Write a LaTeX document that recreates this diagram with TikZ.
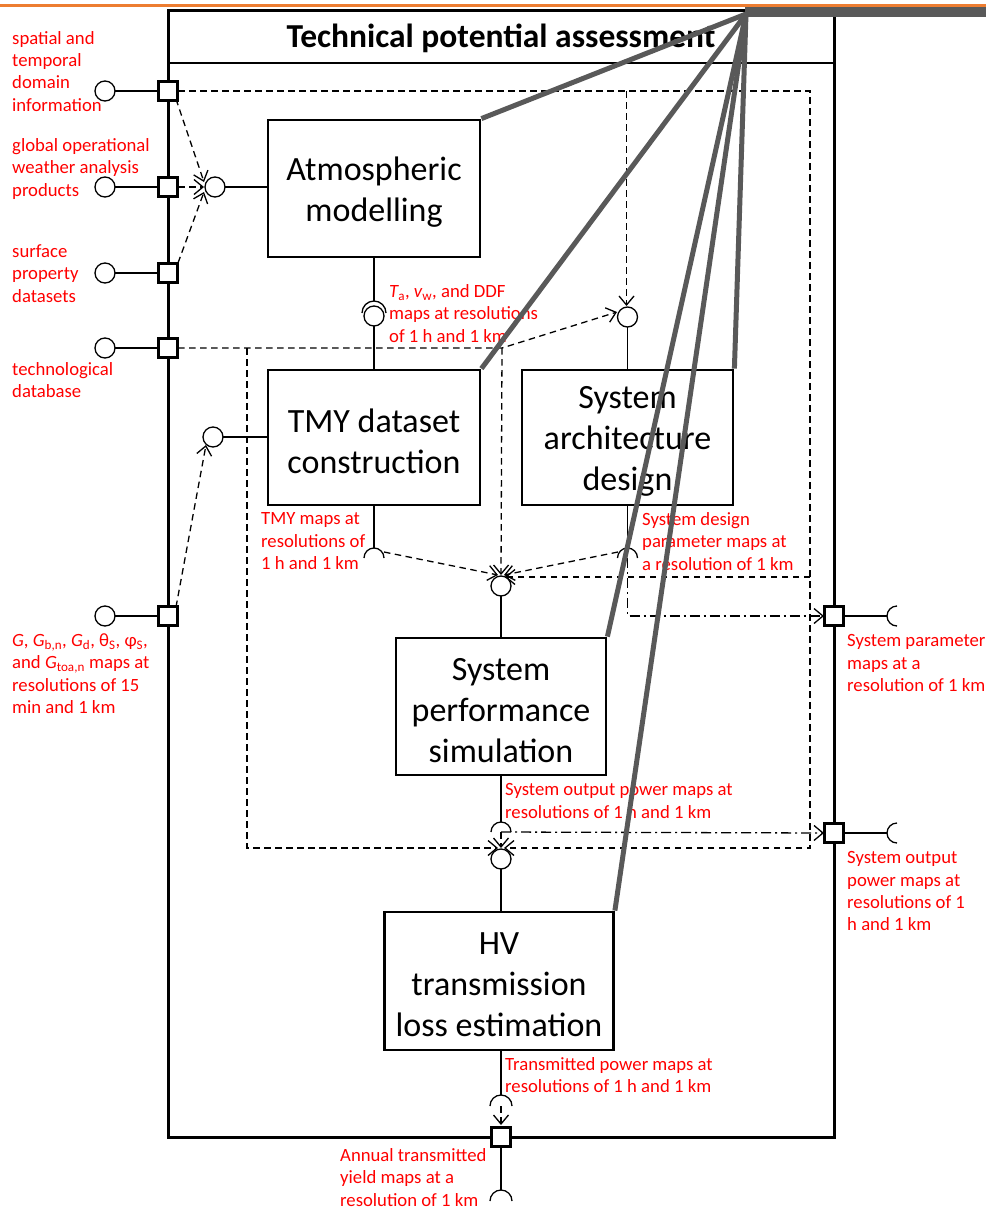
\documentclass[tikz,border=0pt]{standalone}
\usepackage{fontspec}
\setmainfont{Carlito}
\usetikzlibrary{arrows.meta}
\definecolor{lblred}{RGB}{255,0,0}
\definecolor{calloutgray}{RGB}{89,89,89}
\definecolor{topor}{RGB}{237,125,49}
\tikzset{
 procbox/.style={draw, line width=2.8pt, inner sep=0},
 boxtxt/.style={align=center, font=\fontsize{34}{41}\selectfont, inner sep=0, yshift=-4pt},
 portsq/.style={draw, fill=white, line width=3pt, minimum size=19pt, inner sep=0, outer sep=0},
 ballc/.style={circle, draw, fill=white, line width=1.3pt, minimum size=20pt, inner sep=0, outer sep=0},
 lbl/.style={text=lblred, font=\fontsize{18.7}{22.3}\selectfont, align=left, inner sep=0, anchor=north west},
 wire/.style={line width=1.3pt},
 dwire/.style={line width=1.3pt, dash pattern=on 6.5pt off 4.5pt},
 ddwire/.style={line width=1.3pt, dash pattern=on 10pt off 4pt on 2pt off 4pt},
 tip/.style={-{Straight Barb[length=9pt,width=15pt]}},
 callout/.style={line width=5pt, draw=calloutgray},
}
\begin{document}
\begin{tikzpicture}[x=1pt,y=1pt]
\useasboundingbox (0,0) rectangle (986,-1210);
% top orange rule
\draw[draw=topor, line width=3pt] (0,-5) -- (986,-5);
% frame
\node[draw, line width=3pt, minimum width=666pt, minimum height=1127pt, inner sep=0] (frame) at (501,-573.5) {};
\draw[line width=2pt] (168,-63) -- (834,-63);
\node[font=\fontsize{33.5}{40}\selectfont\bfseries] (title) at (501,-38) {Technical potential assessment};

% process boxes
\node[procbox, minimum width=212pt, minimum height=137pt, label={[boxtxt]center:{Atmospheric\\modelling}}] (atm) at (374,-188.5) {};
\node[procbox, minimum width=212pt, minimum height=135pt, label={[boxtxt]center:{TMY dataset\\construction}}] (tmy) at (374,-437.5) {};
\node[procbox, minimum width=211pt, minimum height=135pt, label={[boxtxt]center:{System\\architecture\\design}}] (sad) at (627.5,-437.5) {};
\node[procbox, minimum width=210pt, minimum height=137pt, label={[boxtxt]center:{System\\performance\\simulation}}] (sps) at (501,-706.5) {};
\node[procbox, minimum width=229pt, minimum height=138pt, label={[boxtxt]center:{HV\\transmission\\loss estimation}}] (hv) at (499,-981) {};

% sockets / coordinates
\coordinate (atmsk) at (374,-313);
\coordinate (tmysk) at (374,-558);
\coordinate (sadsk) at (627.5,-558);
\coordinate (spssk) at (501,-832);
\coordinate (hvsk) at (501,-1106);
\coordinate (rsk1) at (897,-616);
\coordinate (rsk2) at (897,-833);
\coordinate (bsk) at (501,-1201);

% dashed flows (drawn before ports and balls)
\draw[dwire,tip] (176,-99) -- (204,-182);
\draw[dwire,tip] (178,-187) -- (204,-187);
\draw[dwire,tip] (178,-263) -- (204,-192);
\draw[dwire,tip] (176,-607) -- (206,-445);
\draw[dwire,tip] (178,-91) -- (810,-91) -- (810,-848) -- (504,-848);
\draw[dwire,tip] (626.5,-91) -- (626.5,-306);
\draw[dwire,tip] (810,-577) -- (505,-577);
\draw[dwire,tip] (178,-348) -- (502,-348) -- (617,-312);
\draw[dwire,tip] (247,-348) -- (247,-848) -- (498,-848);
\draw[dwire,tip] (502,-348) -- (501,-575);
\draw[dwire,tip] (384,-552) -- (498,-575);
\draw[dwire,tip] (618,-552) -- (504,-575);
\draw[dwire,tip] (spssk) -- (501,-848);
\draw[dwire,tip] (hvsk) -- (501,-1125);
\draw[ddwire,tip] (sadsk) -- (627.5,-616) -- (824,-616);
\draw[ddwire,tip] (spssk) -- (824,-833);

% left ports and external balls
\node[portsq] (p1) at (168,-91) {};
\node[portsq] (p2) at (168,-187) {};
\node[portsq] (p3) at (168,-273) {};
\node[portsq] (p4) at (168,-348) {};
\node[portsq] (p5) at (168,-616) {};
\node[ballc] (b1) at (105,-91) {};
\node[ballc] (b2) at (105,-187) {};
\node[ballc] (b3) at (105,-273) {};
\node[ballc] (b4) at (105,-348) {};
\node[ballc] (b5) at (105,-616) {};
\foreach \i in {1,...,5} {\draw[wire] (b\i) -- (p\i);}

% right and bottom ports
\node[portsq] (pr1) at (834,-616) {};
\node[portsq] (pr2) at (834,-833) {};
\node[portsq] (pb) at (501,-1137) {};
\draw[wire] (pr1) -- ([xshift=-10pt]rsk1);
\draw[wire] ([yshift=10pt]rsk1) arc[start angle=90,end angle=270,radius=10];
\draw[wire] (pr2) -- ([xshift=-10pt]rsk2);
\draw[wire] ([yshift=10pt]rsk2) arc[start angle=90,end angle=270,radius=10];
\draw[wire] (pb) -- ([yshift=11pt]bsk);
\draw[wire] ([xshift=-11pt]bsk) arc[start angle=180,end angle=0,radius=11];

% required interfaces (balls) of inner components
\node[ballc] (atmin) at (215,-187) {};
\node[ballc] (tmyin) at (213,-437) {};
\node[ballc] (sadin) at (627.5,-317) {};
\node[ballc] (spsin) at (501,-586) {};
\node[ballc] (hvin) at (501,-859) {};
\node[ballc] (atmout) at (374,-316) {};
\draw[wire] (atmin) -- (atmin -| atm.west);
\draw[wire] (tmyin) -- (tmyin -| tmy.west);
\draw[wire] (sadin) -- (sad.north);
\draw[wire] (spsin) -- (sps.north);
\draw[wire] (hvin) -- (hvin |- hv.north);

% atmospheric output: socket around ball
\draw[wire] (atm.south) -- ([yshift=12pt]atmsk);
\draw[wire] ([xshift=-12pt]atmsk) arc[start angle=180,end angle=0,radius=12];
\draw[wire] (atmout) -- (tmy.north);
% other sockets
\draw[wire] (tmy.south) -- ([yshift=10pt]tmysk);
\draw[wire] ([xshift=-10pt]tmysk) arc[start angle=180,end angle=0,radius=10];
\draw[wire] (sad.south) -- ([yshift=10pt]sadsk);
\draw[wire] ([xshift=-10pt]sadsk) arc[start angle=180,end angle=0,radius=10];
\draw[wire] (sps.south) -- ([yshift=10pt]spssk);
\draw[wire] ([xshift=-10pt]spssk) arc[start angle=180,end angle=0,radius=10];
\draw[wire] (hvsk |- hv.south) -- ([yshift=11pt]hvsk);
\draw[wire] ([xshift=-11pt]hvsk) arc[start angle=180,end angle=0,radius=11];

% labels
\node[lbl] (l1) at (12,-31) {spatial and\\temporal\\domain\\information};
\node[lbl] (l2) at (12,-138.5) {global operational\\weather analysis\\products};
\node[lbl] (l3) at (12,-244.5) {surface\\property\\datasets};
\node[lbl] (l4) at (12,-362.5) {technological\\database};
\node[lbl] (l5) at (12,-633.5) {{\itshape G}, {\itshape G}\textsubscript{b,n}, {\itshape G}\textsubscript{d}, θ\textsubscript{S}, φ\textsubscript{S},\\and {\itshape G}\textsubscript{toa,n} maps at\\resolutions of 15\\min and 1 km};
\node[lbl] (l6) at (389,-284.5) {{\itshape T}\textsubscript{a}, {\itshape v}\textsubscript{w}, and DDF\\maps at resolutions\\of 1 h and 1 km};
\node[lbl] (l7) at (261,-512.5) {TMY maps at\\resolutions of\\1 h and 1 km};
\node[lbl] (l8) at (642,-512.5) {System design\\parameter maps at\\a resolution of 1 km};
\node[lbl] (l9) at (847,-634.5) {System parameter\\maps at a\\resolution of 1 km};
\node[lbl] (l10) at (505,-783.5) {System output power maps at\\resolutions of 1 h and 1 km};
\node[lbl] (l11) at (847,-851.5) {System output\\power maps at\\resolutions of 1\\h and 1 km};
\node[lbl] (l12) at (505,-1057.5) {Transmitted power maps at\\resolutions of 1 h and 1 km};
\node[lbl] (l13) at (340,-1148.5) {Annual transmitted\\yield maps at a\\resolution of 1 km};

% callout lines
\coordinate (co) at (746,-14);
\draw[calloutgray, line width=10pt] (745,-12) -- (986,-12);
\draw[callout] (co) -- (atm.north east);
\draw[callout] (co) -- (tmy.north east);
\draw[callout] (co) -- (sad.north east);
\draw[callout] (co) -- (sps.north east);
\draw[callout] (co) -- (hv.north east);
\end{tikzpicture}
\end{document}
